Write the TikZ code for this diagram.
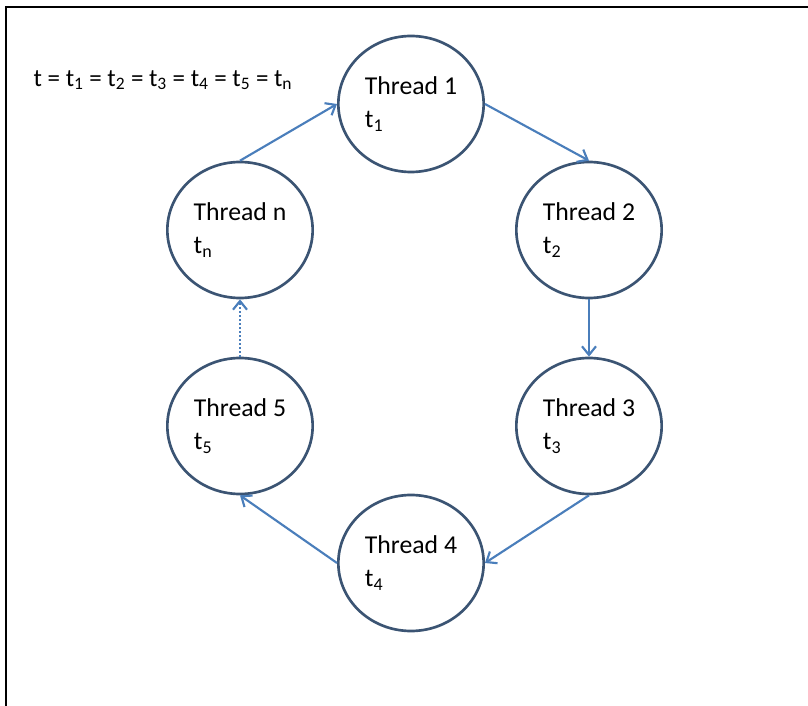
\documentclass[tikz,border=0pt]{standalone}
\usepackage{fontspec}
\setmainfont{Carlito}
\usepackage{xcolor}
\usetikzlibrary{arrows.meta,shapes.geometric}

\definecolor{ringblue}{HTML}{3B5473}
\definecolor{lineblue}{HTML}{4A7EBB}

\begin{document}
\begin{tikzpicture}[
  x=0.75pt,y=-0.75pt,
  thread/.style={draw=ringblue,line width=2pt,ellipse,minimum width=109pt,minimum height=102pt,inner sep=0pt,align=left,font=\fontsize{19.3}{24.5}\selectfont},
  arrow/.style={-{Straight Barb[length=6.5pt,width=10.5pt]},draw=lineblue,line width=1.6pt},
  dotarrow/.style={arrow,dash pattern=on 1.5pt off 1.5pt},
  frame/.style={draw=black,line width=2pt}
]
\useasboundingbox (0,0) rectangle (808,706);
\draw[frame] (6,706) -- (6,7) -- (808,7);
\node[font=\fontsize{18.75}{24}\selectfont] (eq) at (163,80) {t = t\textsubscript{1} = t\textsubscript{2} = t\textsubscript{3} = t\textsubscript{4} = t\textsubscript{5} = t\textsubscript{n}};
\node[thread] (t1) at (411,104) {Thread 1\\t\textsubscript{1}};
\node[thread] (t2) at (589,230) {Thread 2\\t\textsubscript{2}};
\node[thread] (t3) at (589,426) {Thread 3\\t\textsubscript{3}};
\node[thread] (t4) at (411,563) {Thread 4\\t\textsubscript{4}};
\node[thread] (t5) at (240,426) {Thread 5\\t\textsubscript{5}};
\node[thread] (tn) at (240,230) {Thread n\\t\textsubscript{n}};
\draw[arrow] (tn.north) -- (t1.west);
\draw[arrow] (t1.east) -- (t2.north);
\draw[arrow] (t2.south) -- (t3.north);
\draw[arrow] (t3.south) -- (t4.east);
\draw[arrow] (t4.west) -- (t5.south);
\draw[dotarrow] (t5.north) -- (tn.south);
\end{tikzpicture}
\end{document}
